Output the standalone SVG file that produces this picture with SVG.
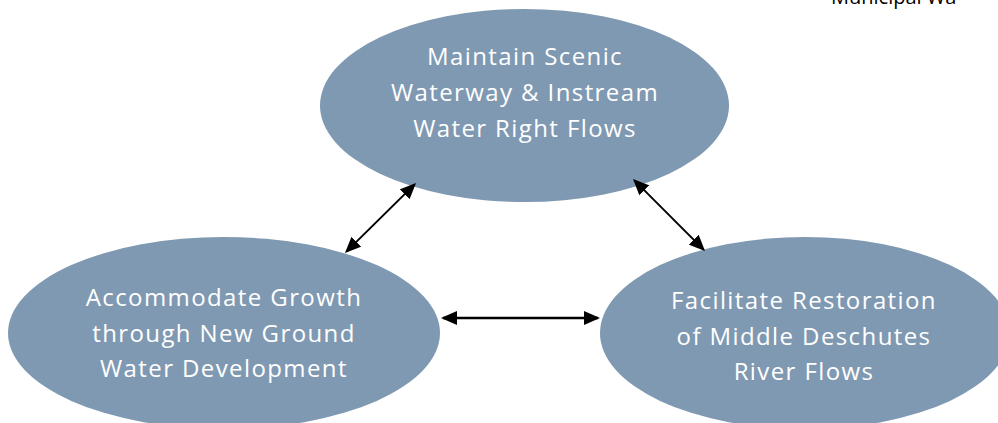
<svg xmlns="http://www.w3.org/2000/svg" width="998" height="423" viewBox="0 0 998 423">
<style>
.node{fill:#7f99b2}
.lbl{font-family:"Open Sans","Liberation Sans",sans-serif;font-size:24px;fill:#ffffff;text-anchor:middle;letter-spacing:1.4px}
.conn{stroke:#000;stroke-width:2;fill:none}
.hdr{font-family:"Open Sans","Liberation Sans",sans-serif;font-size:20px;fill:#000}
</style>
<defs>
<marker id="ah" viewBox="0 0 16 14" refX="14" refY="7" markerWidth="16" markerHeight="14" markerUnits="userSpaceOnUse" orient="auto-start-reverse">
<path d="M0,0 L16,7 L0,14 z" fill="#000"/>
</marker>
</defs>
<rect width="998" height="423" fill="#fff"/>
<text class="hdr" x="831" y="4">Municipal Wa</text>
<g id="top">
<ellipse class="node" cx="524.5" cy="105.5" rx="204.5" ry="96.5"/>
<text class="lbl" x="525" y="65">Maintain Scenic</text>
<text class="lbl" x="525" y="101">Waterway &amp; Instream</text>
<text class="lbl" x="525" y="137">Water Right Flows</text>
</g>
<g id="left">
<ellipse class="node" cx="224" cy="333" rx="216" ry="96"/>
<text class="lbl" x="224" y="306">Accommodate Growth</text>
<text class="lbl" x="224" y="342">through New Ground</text>
<text class="lbl" x="224" y="377">Water Development</text>
</g>
<g id="right">
<ellipse class="node" cx="805" cy="333" rx="205" ry="96"/>
<text class="lbl" x="804" y="309">Facilitate Restoration</text>
<text class="lbl" x="804" y="345">of Middle Deschutes</text>
<text class="lbl" x="804" y="380">River Flows</text>
</g>
<g id="connectors">
<line class="conn" x1="414.6" y1="184.4" x2="346.4" y2="251.6" marker-start="url(#ah)" marker-end="url(#ah)"/>
<line class="conn" x1="634.4" y1="180.4" x2="703.6" y2="249.6" marker-start="url(#ah)" marker-end="url(#ah)"/>
<line class="conn" style="stroke-width:2.6" x1="443" y1="318" x2="598" y2="318" marker-start="url(#ah)" marker-end="url(#ah)"/>
</g>
</svg>
